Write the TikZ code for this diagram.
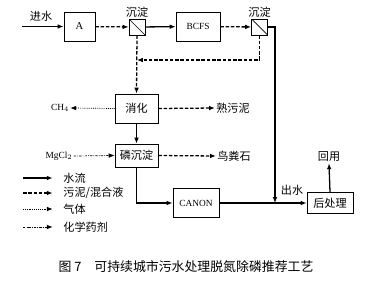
\documentclass[tikz,border=0pt]{standalone}
\usepackage{fontspec}
\setmainfont{Liberation Serif}
\newfontfamily\cjk{Noto Sans CJK SC}
\usetikzlibrary{arrows.meta}
\usetikzlibrary{calc}

\begin{document}
\begin{tikzpicture}[x=0.03cm, y=-0.03cm,
        box/.style={draw, line width=0.7pt, inner sep=0pt, font=\cjk\fontsize{9.5}{10}\selectfont},
        settler/.style={draw, line width=0.7pt, minimum size=0.48cm, inner sep=0pt,
            path picture={\draw[line width=0.6pt] (path picture bounding box.north west) -- (path picture bounding box.south east);}},
        txt/.style={font=\cjk\fontsize{9.5}{10}\selectfont, inner sep=1pt},
        headtip/.style={-{Latex[length=5pt,width=4pt]}},
        water/.style={headtip, line width=1.1pt},
        sludge/.style={headtip, line width=1.1pt, dash pattern=on 3pt off 1.5pt},
        gas/.style={headtip, line width=0.6pt, dash pattern=on 0.8pt off 0.8pt},
        chem/.style={headtip, line width=0.6pt, dash pattern=on 2pt off 1pt on 0.6pt off 1pt}]
        \useasboundingbox (0,0) rectangle (368,281);
        % nodes
        \node[box, minimum width=0.93cm, minimum height=0.87cm, font=\rmfamily\small] (A) at (79.5,26.5) {A};
        \node[settler] (settler1) at (137,27) {};
        \node[box, minimum width=1.32cm, minimum height=0.87cm, font=\rmfamily\footnotesize] (bcfs) at (198,26.5) {BCFS};
        \node[settler] (settler2) at (259.5,27) {};
        \node[box, minimum width=1.29cm, minimum height=0.87cm] (digest) at (136.5,108.5) {消化};
        \node[box, minimum width=1.29cm, minimum height=0.69cm] (phos) at (136.5,155.5) {磷沉淀};
        \node[box, minimum width=1.38cm, minimum height=0.87cm, font=\rmfamily\footnotesize] (canon) at (196,203) {CANON};
        \node[box, minimum width=1.38cm, minimum height=0.63cm] (post) at (330,203) {后处理};
        % labels
        \node[txt] (inlabel) at (41,16) {进水};
        \node[txt, anchor=south] (s1label) at (settler1.north) {沉淀};
        \node[txt, anchor=south] (s2label) at (settler2.north) {沉淀};
        \node[txt, font=\rmfamily\footnotesize] (ch4) at (60,108) {CH$_4$};
        \node[txt] (cooked) at (233,108) {熟污泥};
        \node[txt, font=\rmfamily\footnotesize] (mgcl) at (59,156) {MgCl$_2$};
        \node[txt] (struvite) at (234,156) {鸟粪石};
        \node[txt] (outlabel) at (292,190) {出水};
        \node[txt] (reuse) at (329,157) {回用};
        % coordinates
        \coordinate (in) at (22,26.5);
        \coordinate (ret) at (137,60);
        \coordinate (merge) at (275,203);
        % arrows
        \draw[water] (in) -- (A);
        \draw[sludge] (A) -- (settler1);
        \draw[water] (settler1) -- (bcfs);
        \draw[sludge] (bcfs) -- (settler2);
        \draw[water] (settler2.east) -| (merge);
        \draw[sludge] (settler2.south) |- (ret);
        \draw[sludge] (settler1.south) -- (digest.north);
        \draw[gas] (digest.west) -- (ch4.east);
        \draw[sludge] (digest.east) -- (cooked.west);
        \draw[water] (digest.south) -- (phos.north);
        \draw[chem] (mgcl.east) -- (phos.west);
        \draw[sludge] (phos.east) -- (struvite.west);
        \draw[water] (phos.south) |- (canon.west);
        \draw[water] (canon.east) -- (post.west);
        \draw[water] (post.north) -- (reuse.south);
        % legend
        \foreach \s/\t/\y in {water/{水流}/178, sludge/{污泥/混合液}/193, gas/{气体}/209, chem/{化学药剂}/227}
        {
            \coordinate (leg-\s) at (23,\y);
            \node[txt, anchor=west] (legtext-\s) at (62,\y) {\t};
            \draw[\s, shorten >=8pt] (leg-\s) -- (legtext-\s.west);
        }
        % caption
        \node[font=\cjk\fontsize{11}{12}\selectfont] (caption) at (186,267) {图 7\quad 可持续城市污水处理脱氮除磷推荐工艺};
    \end{tikzpicture}
\end{document}
